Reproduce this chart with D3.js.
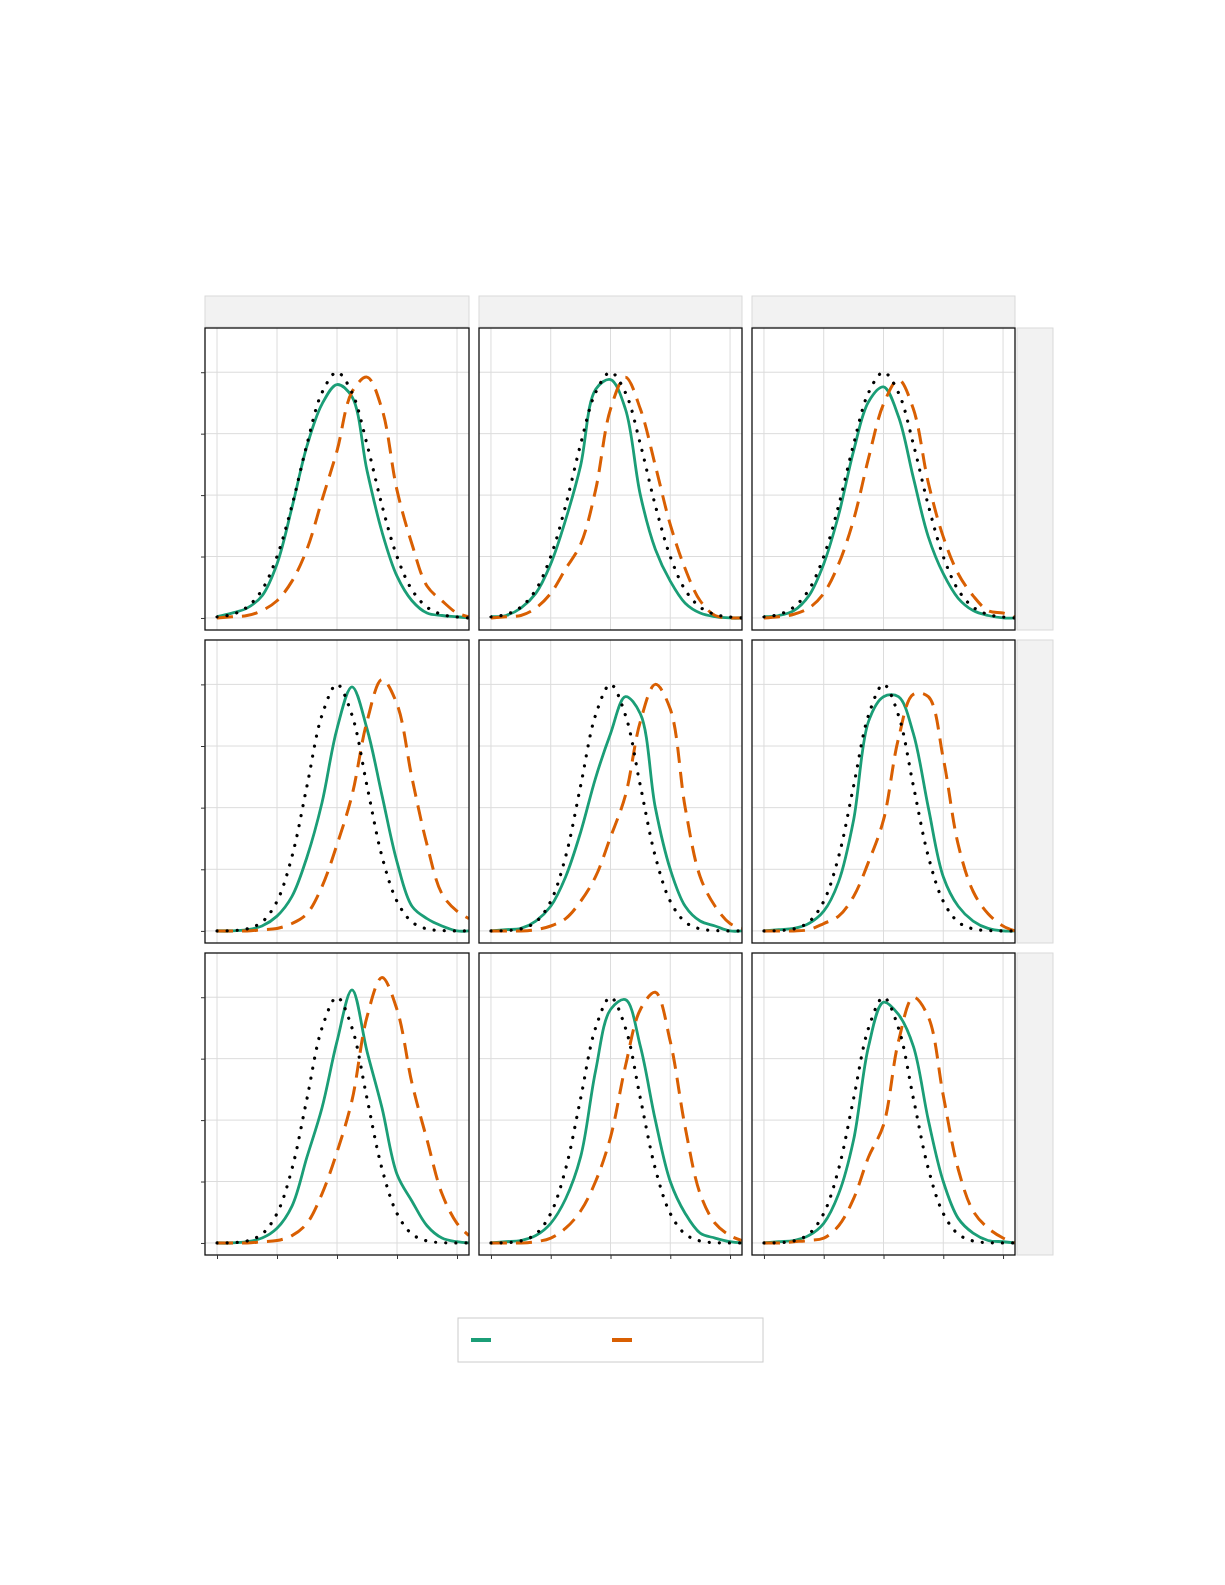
<!DOCTYPE html>
<html><head><meta charset="utf-8">
<script src="https://cdn.jsdelivr.net/npm/d3@7"></script>
<style>body{margin:0;background:#fff}</style>
</head><body>
<svg id="c" width="1225" height="1585"></svg>
<script>
const xGrid = [-4,-3.5,-3,-2.5,-2,-1.5,-1,-0.5,0,0.5,1,1.5,2,2.5,3,3.5,4,4.4];
const xTicks = [-4,-2,0,2,4];
const yTicks = [0,0.25,0.5,0.75,1];

const normWide   = [0.004,0.014,0.044,0.114,0.25,0.458,0.707,0.917,1,0.917,0.707,0.458,0.25,0.114,0.044,0.014,0.004,0];
const normNarrow = [0,0.0015,0.008,0.036,0.12,0.302,0.588,0.875,1,0.875,0.588,0.302,0.12,0.036,0.008,0.0015,0,0];

const green = [
  [0.005,0.02,0.04,0.09,0.22,0.45,0.7,0.87,0.95,0.9,0.6,0.35,0.17,0.07,0.02,0.01,0.005,0],
  [0.005,0.01,0.04,0.1,0.22,0.4,0.62,0.93,0.97,0.85,0.5,0.28,0.15,0.06,0.02,0.005,0,0],
  [0.005,0.01,0.03,0.09,0.22,0.42,0.68,0.88,0.94,0.82,0.57,0.33,0.18,0.08,0.03,0.01,0,0],
  [0,0,0.005,0.02,0.06,0.14,0.3,0.52,0.82,0.99,0.82,0.55,0.28,0.1,0.05,0.02,0,0],
  [0,0.005,0.01,0.04,0.1,0.22,0.4,0.62,0.8,0.95,0.88,0.5,0.25,0.1,0.04,0.02,0,0],
  [0,0.005,0.01,0.03,0.08,0.2,0.45,0.85,0.95,0.95,0.8,0.5,0.22,0.1,0.04,0.01,0,0],
  [0,0,0.005,0.02,0.06,0.15,0.35,0.55,0.82,1.03,0.78,0.55,0.28,0.17,0.07,0.02,0.005,0],
  [0,0.005,0.01,0.03,0.08,0.18,0.35,0.7,0.95,0.99,0.8,0.5,0.25,0.12,0.04,0.02,0.005,0],
  [0,0.005,0.01,0.03,0.08,0.2,0.42,0.8,0.98,0.93,0.8,0.5,0.25,0.1,0.04,0.01,0.005,0]
];
const orange = [
  [0,0.005,0.01,0.03,0.07,0.15,0.28,0.48,0.68,0.92,0.98,0.85,0.52,0.3,0.13,0.07,0.02,0.005],
  [0,0.005,0.01,0.04,0.1,0.2,0.3,0.52,0.85,0.98,0.85,0.62,0.38,0.2,0.07,0.01,0,0],
  [0,0.005,0.015,0.04,0.1,0.22,0.4,0.65,0.87,0.97,0.85,0.55,0.33,0.18,0.09,0.03,0.02,0.005],
  [0,0,0,0.005,0.01,0.03,0.07,0.18,0.35,0.55,0.85,1.02,0.92,0.62,0.35,0.15,0.08,0.05],
  [0,0,0,0.005,0.02,0.05,0.12,0.22,0.38,0.55,0.85,1.0,0.9,0.5,0.22,0.1,0.03,0.01],
  [0,0,0,0.005,0.03,0.06,0.14,0.28,0.45,0.78,0.96,0.95,0.7,0.35,0.16,0.07,0.02,0],
  [0,0,0,0.005,0.01,0.03,0.08,0.2,0.37,0.58,0.92,1.08,0.95,0.65,0.42,0.2,0.08,0.03],
  [0,0,0,0.005,0.02,0.06,0.13,0.25,0.43,0.72,0.95,1.02,0.82,0.47,0.2,0.08,0.03,0.01],
  [0,0,0.005,0.01,0.02,0.07,0.18,0.35,0.48,0.82,1.0,0.92,0.6,0.3,0.13,0.06,0.02,0]
];

const colX = [[205,469],[479,742],[752,1015]];
const rowY = [[328,630],[640,943],[953,1255]];

const svg = d3.select("#c");
const defs = svg.append("defs");

for (let r = 0; r < 3; r++) {
  // right strip
  svg.append("rect").attr("x", 1017).attr("y", rowY[r][0]).attr("width", 36)
    .attr("height", rowY[r][1] - rowY[r][0]).attr("fill", "#f2f2f2").attr("stroke", "#d9d9d9");
  for (let c = 0; c < 3; c++) {
    const [x0, x1] = colX[c], [y0, y1] = rowY[r];
    if (r === 0) {
      svg.append("rect").attr("x", x0).attr("y", 296).attr("width", x1 - x0).attr("height", 31)
        .attr("fill", "#f2f2f2").attr("stroke", "#d9d9d9");
    }
    const x = d3.scaleLinear().domain([-4.4, 4.4]).range([x0, x1]);
    const y = d3.scaleLinear().domain([-0.049, 1.18]).range([y1, y0]);
    const id = "clip" + r + c;
    defs.append("clipPath").attr("id", id).append("rect")
      .attr("x", x0).attr("y", y0).attr("width", x1 - x0).attr("height", y1 - y0);
    const g = svg.append("g");
    g.selectAll(".gx").data(xTicks).join("line")
      .attr("x1", d => x(d)).attr("x2", d => x(d)).attr("y1", y0).attr("y2", y1)
      .attr("stroke", "#dcdcdc");
    g.selectAll(".gy").data(yTicks).join("line")
      .attr("x1", x0).attr("x2", x1).attr("y1", d => y(d)).attr("y2", d => y(d))
      .attr("stroke", "#dcdcdc");

    const line = d3.line().x((d, i) => x(xGrid[i])).y(d => y(d)).curve(d3.curveCatmullRom);
    const pg = g.append("g").attr("clip-path", `url(#${id})`);
    const k = r * 3 + c;
    pg.append("path").attr("d", line(green[k])).attr("fill", "none")
      .attr("stroke", "#1b9e77").attr("stroke-width", 2.8);
    pg.append("path").attr("d", line(orange[k])).attr("fill", "none")
      .attr("stroke", "#d95f02").attr("stroke-width", 3).attr("stroke-dasharray", "16,9");
    pg.append("path").attr("d", line(r === 0 ? normWide : normNarrow)).attr("fill", "none")
      .attr("stroke", "#000").attr("stroke-width", 3.2).attr("stroke-linecap", "round")
      .attr("stroke-dasharray", "0.1,10");

    g.append("rect").attr("x", x0).attr("y", y0).attr("width", x1 - x0).attr("height", y1 - y0)
      .attr("fill", "none").attr("stroke", "#111").attr("stroke-width", 1.3);

    if (c === 0) {
      const ay = svg.append("g").attr("transform", `translate(${x0},0)`)
        .call(d3.axisLeft(y).tickValues(yTicks).tickSize(4).tickFormat(""));
      ay.select(".domain").remove();
      ay.selectAll("line").attr("stroke", "#333");
    }
    if (r === 2) {
      const ax = svg.append("g").attr("transform", `translate(0,${y1})`)
        .call(d3.axisBottom(x).tickValues(xTicks).tickSize(4).tickFormat(""));
      ax.select(".domain").remove();
      ax.selectAll("line").attr("stroke", "#333");
    }
  }
}

// legend
const lg = svg.append("g");
lg.append("rect").attr("x", 458).attr("y", 1318).attr("width", 305).attr("height", 44)
  .attr("fill", "#fff").attr("stroke", "#cccccc");
lg.append("line").attr("x1", 471).attr("x2", 491).attr("y1", 1340).attr("y2", 1340)
  .attr("stroke", "#1b9e77").attr("stroke-width", 4);
lg.append("line").attr("x1", 612).attr("x2", 632).attr("y1", 1340).attr("y2", 1340)
  .attr("stroke", "#d95f02").attr("stroke-width", 4);
</script>
</body></html>
